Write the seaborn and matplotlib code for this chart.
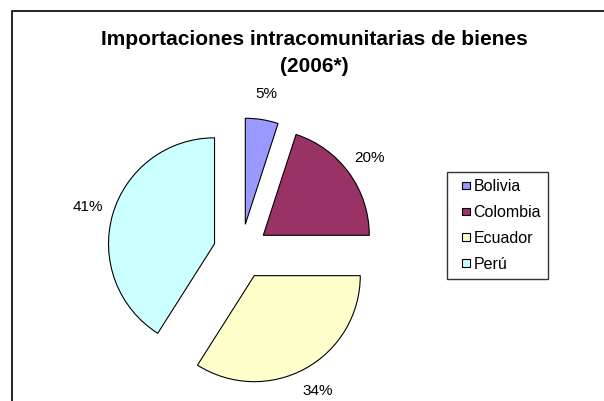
import matplotlib
matplotlib.use("Agg")
import matplotlib.pyplot as plt
import matplotlib.patches as mpatches
from matplotlib.legend_handler import HandlerPatch
import seaborn as sns

# data
paises = ["Bolivia", "Colombia", "Ecuador", "Perú"]
porcentajes = [5, 20, 34, 41]
colores = ["#9999FF", "#993366", "#FFFFCC", "#CCFFFF"]

titulo = "Importaciones intracomunitarias de bienes\n(2006*)"

sns.set_theme(style="white")
plt.rcParams["font.family"] = ["Liberation Sans", "DejaVu Sans"]
plt.rcParams["text.color"] = "black"

W, H = 604, 401
fig = plt.figure(figsize=(W / 100, H / 100), dpi=100)
ax = fig.add_axes([0, 0, 1, 1])

wedges, texts, autotexts = ax.pie(
    porcentajes,
    colors=colores,
    explode=[0.26] * len(porcentajes),
    startangle=90,
    counterclock=False,
    autopct="%1.0f%%",
    pctdistance=1.24,
    wedgeprops={"edgecolor": "black", "linewidth": 0.8},
    textprops={"fontsize": 11, "color": "black"},
)

cx, cy, r = 241, 251.5, 106
ax.set_xlim(-cx / r, (W - cx) / r)
ax.set_ylim(-(H - cy) / r, cy / r)
ax.set_aspect("auto")
ax.axis("off")


def small_square(legend, orig_handle, xdescent, ydescent, width, height, fontsize):
    s = 0.48 * fontsize
    return mpatches.Rectangle((width - s - xdescent, (height - s) / 2 - ydescent), s, s)


leg = fig.legend(
    wedges, paises,
    loc="upper left",
    bbox_to_anchor=(447 / W, 1 - 172 / H),
    fontsize=11.5,
    frameon=True,
    fancybox=False,
    shadow=False,
    borderpad=0.45,
    labelspacing=0.68,
    handlelength=1.0,
    handletextpad=0.2,
    borderaxespad=0,
    handler_map={mpatches.Wedge: HandlerPatch(patch_func=small_square)},
)
leg.get_frame().set_edgecolor("black")
leg.get_frame().set_linewidth(1.0)
for h in leg.legend_handles:
    h.set_edgecolor("black")
    h.set_linewidth(0.8)
for t in leg.get_texts():
    t.set_color("black")

fig.text(314.5 / W, 1 - 30 / H, titulo, ha="center", va="top", color="black",
         fontsize=15, fontweight="bold", linespacing=1.55)

# chart area border (cropped on the right and bottom like the reference)
fig.patches.append(mpatches.Rectangle(
    (11.5 / W, -0.1), 1.2, 1 - 10.5 / H + 0.1,
    transform=fig.transFigure, fill=False, edgecolor="black", linewidth=1.2))

fig.savefig("out.png", dpi=100)
